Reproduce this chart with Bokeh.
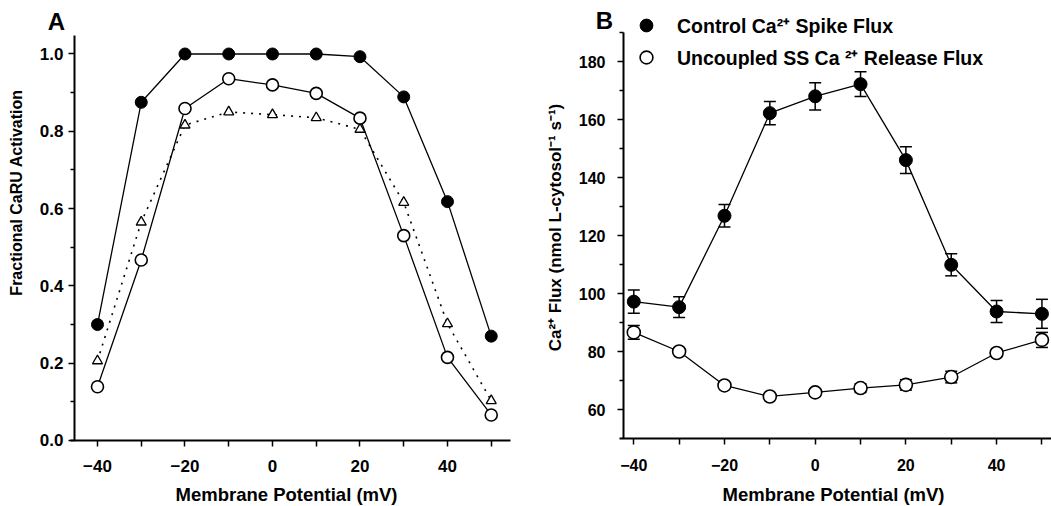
import math

from bokeh.embed import file_html
from bokeh.layouts import row
from bokeh.models import (ColumnDataSource, FixedTicker, Label, Legend, LegendItem,
                          PrintfTickFormatter, Range1d, TeeHead, Whisker)
from bokeh.plotting import figure
from bokeh.resources import INLINE

# ---------------------------------------------------------------- data
voltage = [-40, -30, -20, -10, 0, 10, 20, 30, 40, 50]

# Panel A: fractional CaRU activation
caru_filled = [0.30, 0.875, 1.0, 1.0, 1.0, 1.0, 0.993, 0.889, 0.618, 0.27]
caru_open = [0.139, 0.467, 0.859, 0.936, 0.920, 0.898, 0.834, 0.530, 0.215, 0.066]
caru_triangle = [0.206, 0.565, 0.816, 0.850, 0.843, 0.835, 0.805, 0.616, 0.302, 0.103]

# Panel B: Ca2+ flux (nmol L-cytosol^-1 s^-1), mean and error
spike_flux = [97.3, 95.4, 126.9, 162.3, 168.1, 172.3, 146.1, 110.0, 93.9, 93.1]
spike_err = [4.0, 3.6, 3.9, 4.0, 4.7, 4.3, 4.6, 3.8, 3.8, 5.0]
release_flux = [86.7, 80.1, 68.4, 64.6, 66.0, 67.5, 68.6, 71.3, 79.6, 84.1]
release_err = [2.4, 1.0, 1.0, 1.0, 1.2, 1.5, 1.8, 2.0, 1.2, 2.6]

x_tick_labels = [-40, -20, 0, 20, 40]
x_minor_ticks = [-30, -10, 10, 30, 50]
a_y_ticks = [0.0, 0.2, 0.4, 0.6, 0.8, 1.0]
a_y_minor = [0.1, 0.3, 0.5, 0.7, 0.9]
b_y_ticks = [60, 80, 100, 120, 140, 160, 180]
b_y_minor = [70, 90, 110, 130, 150, 170, 190]

FONT = "Liberation Sans"
H = 506


class Canvas:
    """Maps pixel positions on a panel to its data coordinates."""

    def __init__(self, xr, yr, width, height):
        self.xr, self.yr, self.w, self.h = xr, yr, width, height

    def x(self, px):
        return self.xr[0] + px / self.w * (self.xr[1] - self.xr[0])

    def y(self, py):
        return self.yr[1] - py / self.h * (self.yr[1] - self.yr[0])


def make_panel(width, xr, yr, xbounds, ybounds, x_at, tick_size, y_standoff):
    p = figure(width=width, height=H, title=None, output_backend="svg", toolbar_location=None,
               x_range=Range1d(*xr), y_range=Range1d(*yr),
               min_border_left=0, min_border_right=0, min_border_top=0, min_border_bottom=0)
    xa, ya = p.xaxis[0], p.yaxis[0]
    xa.fixed_location = x_at
    ya.fixed_location = xbounds[0]
    xa.bounds = (xbounds[0] - 0.9, xbounds[1])
    ya.bounds = ybounds
    for ax in (xa, ya):
        ax.axis_line_width = 2
        ax.axis_line_color = "black"
        ax.major_tick_line_width = 1.5
        ax.minor_tick_line_width = 1.5
        ax.major_tick_in = 0
        ax.minor_tick_in = 0
        ax.major_label_text_font = FONT
        ax.major_label_text_font_style = "bold"
        ax.major_label_text_font_size = tick_size
        ax.major_label_text_color = "black"
    xa.major_tick_out = 6
    xa.minor_tick_out = 6
    ya.major_tick_out = 6
    ya.minor_tick_out = 4
    xa.major_label_standoff = 14
    ya.major_label_standoff = y_standoff
    xa.ticker = FixedTicker(ticks=x_tick_labels, minor_ticks=x_minor_ticks)
    p.xgrid.visible = False
    p.ygrid.visible = False
    p.outline_line_color = None
    p.background_fill_color = "white"
    p.border_fill_color = "white"
    return p


def add_text(p, x, y, text, size, angle=0.0):
    p.add_layout(Label(x=x, y=y, text=text, angle=angle, text_font=FONT,
                       text_font_style="bold", text_font_size=size, text_color="black",
                       text_align="center", text_baseline="middle"))


# ---------------------------------------------------------------- panel A
a_xr, a_yr = (-62.17, 56.69), (-0.1708, 1.1384)
ca = Canvas(a_xr, a_yr, 520, H)
pa = make_panel(520, a_xr, a_yr, (-45.26, 54.4), (0.0, 1.048), 0.0, "17px", 5)
pa.yaxis.ticker = FixedTicker(ticks=a_y_ticks, minor_ticks=a_y_minor)
pa.yaxis.formatter = PrintfTickFormatter(format="%.1f")

src_a = ColumnDataSource(dict(v=voltage, filled=caru_filled, open=caru_open, tri=caru_triangle))
pa.line("v", "tri", source=src_a, line_color="black", line_width=1.6, line_dash="2 6")
pa.line("v", "open", source=src_a, line_color="black", line_width=1.3)
pa.line("v", "filled", source=src_a, line_color="black", line_width=1.3)
pa.scatter("v", "tri", source=src_a, marker="triangle", size=10, fill_color="white",
           line_color="black", line_width=1.3)
pa.scatter("v", "open", source=src_a, marker="circle", size=12, fill_color="white",
           line_color="black", line_width=1.6)
pa.scatter("v", "filled", source=src_a, marker="circle", size=12, fill_color="black",
           line_color="black")

add_text(pa, ca.x(16), ca.y(192), "Fractional CaRU Activation", "16px", math.pi / 2)
add_text(pa, ca.x(286), ca.y(494), "Membrane Potential (mV)", "18.5px")
add_text(pa, ca.x(56), ca.y(21), "A", "24px")

# ---------------------------------------------------------------- panel B
b_xr, b_yr = (-64.98, 52.11), (26.66, 201.14)
cb = Canvas(b_xr, b_yr, 531, H)
pb = make_panel(531, b_xr, b_yr, (-42.27, 52.11), (50, 190), 50, "16px", 12)
pb.yaxis.ticker = FixedTicker(ticks=b_y_ticks, minor_ticks=b_y_minor)

src_b = ColumnDataSource(dict(
    v=voltage,
    spike=spike_flux,
    spike_hi=[m + e for m, e in zip(spike_flux, spike_err)],
    spike_lo=[m - e for m, e in zip(spike_flux, spike_err)],
    rel=release_flux,
    rel_hi=[m + e for m, e in zip(release_flux, release_err)],
    rel_lo=[m - e for m, e in zip(release_flux, release_err)],
))

for hi, lo in (("spike_hi", "spike_lo"), ("rel_hi", "rel_lo")):
    pb.add_layout(Whisker(source=src_b, base="v", upper=hi, lower=lo, dimension="height",
                          line_color="black", line_width=1.5,
                          upper_head=TeeHead(size=12, line_color="black", line_width=1.5),
                          lower_head=TeeHead(size=12, line_color="black", line_width=1.5)))

pb.line("v", "spike", source=src_b, line_color="black", line_width=1.3)
pb.line("v", "rel", source=src_b, line_color="black", line_width=1.3)
r_spike = pb.scatter("v", "spike", source=src_b, marker="circle", size=13,
                     fill_color="black", line_color="black")
r_rel = pb.scatter("v", "rel", source=src_b, marker="circle", size=13,
                   fill_color="white", line_color="black", line_width=1.6)

legend = Legend(items=[LegendItem(label="Control Ca²⁺ Spike Flux", renderers=[r_spike]),
                       LegendItem(label="Uncoupled SS Ca ²⁺ Release Flux", renderers=[r_rel])],
                location=(110, 433), padding=0, margin=0, spacing=-4,
                glyph_width=32, glyph_height=32, label_height=32, label_standoff=15,
                border_line_alpha=0, background_fill_alpha=0,
                label_text_font=FONT, label_text_font_style="bold",
                label_text_font_size="19.5px", label_text_color="black")
pb.add_layout(legend)

add_text(pb, cb.x(35), cb.y(227), "Ca²⁺ Flux (nmol L-cytosol⁻¹ s⁻¹)", "17px", math.pi / 2)
add_text(pb, cb.x(313), cb.y(494), "Membrane Potential (mV)", "18.5px")
add_text(pb, cb.x(84), cb.y(20), "B", "24px")

layout = row(pa, pb)
open("out.html", "w").write(file_html(layout, INLINE))
